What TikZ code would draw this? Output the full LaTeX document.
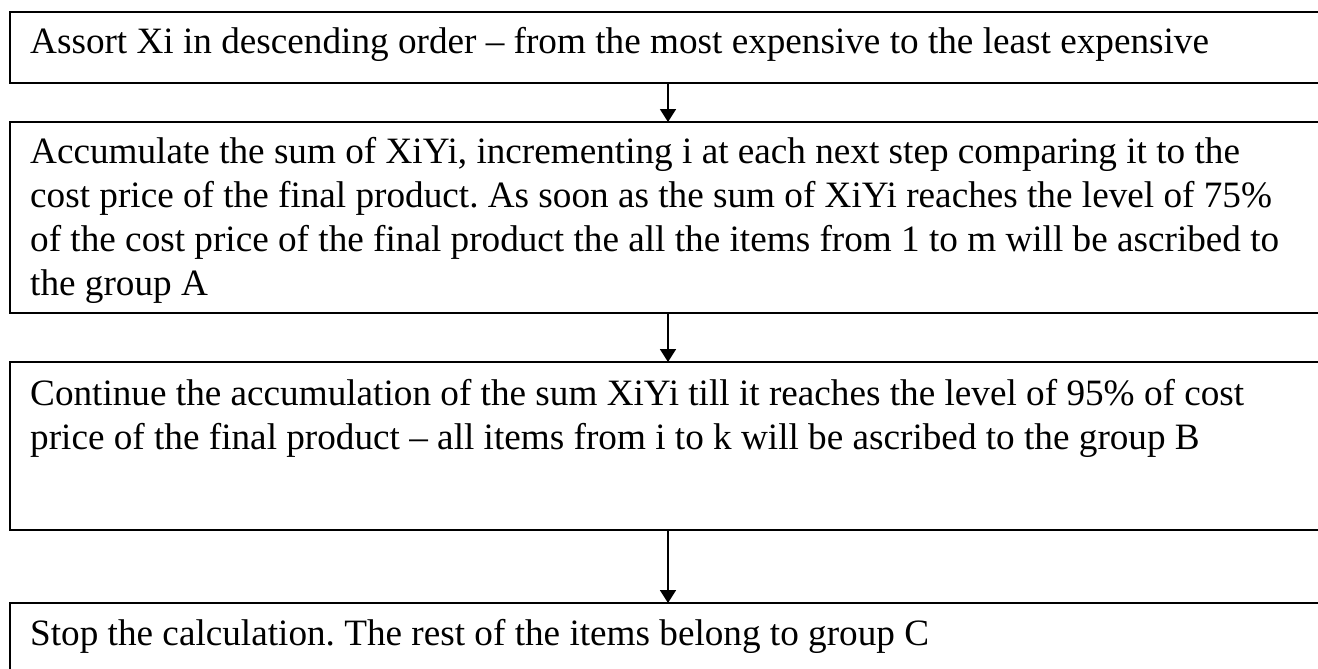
\documentclass[tikz,border=0pt]{standalone}
\usepackage{fontspec}
\setmainfont{Liberation Serif}
\usetikzlibrary{arrows.meta}
\frenchspacing
\begin{document}
\begin{tikzpicture}[x=1pt,y=-1pt,
  stepbox/.style={draw, line width=1.8pt, minimum width=1340pt, inner sep=0pt, outer sep=0pt, anchor=north west},
  steptext/.style={anchor=base west, align=left, inner sep=0pt, font=\fontsize{37.2}{44}\selectfont},
  flow/.style={line width=1.8pt, -{Triangle[width=16pt,length=13pt]}}]
\path[use as bounding box, clip] (0,0) rectangle (1318,669);
\fill[white] (0,0) rectangle (1318,669);

% the four steps of the ABC grouping
\node[stepbox, minimum height=71pt]  (b1) at (10,12)  {};
\node[stepbox, minimum height=191pt] (b2) at (10,122) {};
\node[stepbox, minimum height=168pt] (b3) at (10,362) {};
\node[stepbox, minimum height=100pt] (b4) at (10,603) {};

% texts are placed by the baseline of their last line
\node[steptext] (t1) at (30,54) {Assort Xi in descending order – from the most expensive to the least expensive};
\node[steptext] (t2) at (30,295) {Accumulate the sum of XiYi, incrementing i at each next step comparing it to the\\
cost price of the final product. As soon as the sum of XiYi reaches the level of 75\%\\
of the cost price of the final product the all the items from 1 to m will be ascribed to\\
the group A};
\node[steptext] (t3) at (30,449) {Continue the accumulation of the sum XiYi till it reaches the level of 95\% of cost\\
price of the final product – all items from i to k will be ascribed to the group B};
\node[steptext] (t4) at (30,645) {Stop the calculation. The rest of the items belong to group C};

% connectors run down a common vertical axis
\coordinate (axis) at (668,0);
\draw[flow] (b1.south -| axis) -- (b2.north -| axis);
\draw[flow] (b2.south -| axis) -- (b3.north -| axis);
\draw[flow] (b3.south -| axis) -- (b4.north -| axis);
\end{tikzpicture}
\end{document}
